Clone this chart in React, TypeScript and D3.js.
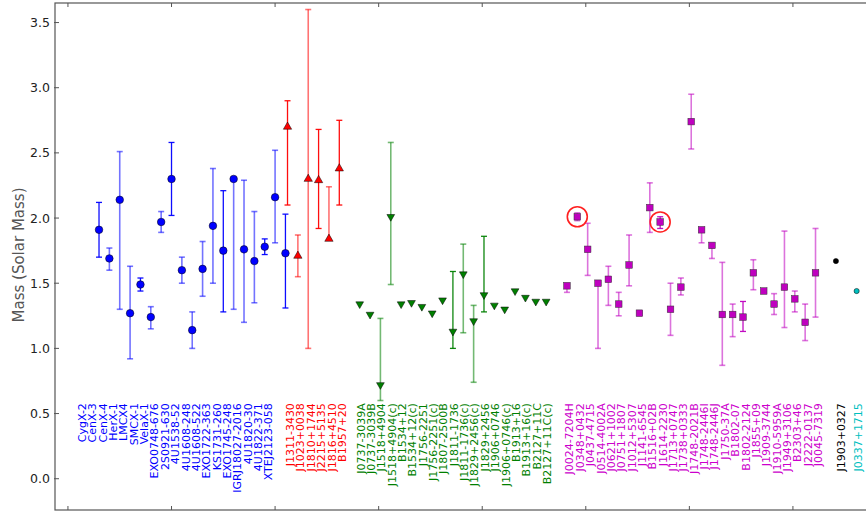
import React, { useEffect, useRef } from 'react';
import * as d3 from 'd3';

// X-ray / optical binaries (blue)
const blueNames = ['CygX-2', 'CenX-3', 'CenX-4', 'HerX-1', 'LMCX4', 'SMCX-1', 'VelaX-1', 'EXO0748-676', '2S0921-630', '4U1538-52', '4U1608-248', '4U1608-522', 'EXO1722-363', 'KS1731-260', 'EXO1745-248', 'IGRJ18027-2016', '4U1820-30', '4U1822-371', 'XTEJ2123-058'];
const blueMass = [1.91, 1.69, 2.14, 1.27, 1.49, 1.24, 1.97, 2.30, 1.60, 1.14, 1.61, 1.94, 1.75, 2.30, 1.76, 1.67, 1.78, 2.16, 1.73];
const blueHi = [2.12, 1.77, 2.51, 1.63, 1.54, 1.32, 2.05, 2.58, 1.70, 1.28, 1.82, 2.38, 2.21, 2.30, 2.29, 2.05, 1.84, 2.52, 2.03];
const blueLo = [1.70, 1.60, 1.30, 0.92, 1.44, 1.15, 1.89, 2.02, 1.50, 1.00, 1.40, 1.50, 1.28, 1.30, 1.20, 1.35, 1.72, 1.81, 1.31];

// black widow / redback (red)
const redNames = ['J1311-3430', 'J1023+0038', 'J1810+1744', 'J2215+5135', 'J1816+4510', 'B1957+20'];
const redMass = [2.70, 1.71, 2.30, 2.29, 1.84, 2.38];
const redHi = [2.90, 1.87, 3.60, 2.68, 2.24, 2.75];
const redLo = [2.10, 1.55, 1.00, 1.92, 1.84, 2.10];

// double neutron stars (green)
const greenNames = ['J0737-3039A', 'J0737-3039B', 'J1518+4904', 'J1518+4904(c)', 'B1534+12', 'B1534+12(c)', 'J1756-2251', 'J1756-2251(c)', 'J1807-2500B', 'J1811-1736', 'J1811-1736(c)', 'J1829+2456(c)', 'J1829+2456', 'J1906+0746', 'J1906+0746(c)', 'B1913+16', 'B1913+16(c)', 'B2127+11C', 'B2127+11C(c)'];
const greenMass = [1.34, 1.26, 0.72, 2.01, 1.34, 1.35, 1.32, 1.27, 1.37, 1.13, 1.57, 1.21, 1.41, 1.33, 1.30, 1.44, 1.39, 1.36, 1.36];
const greenHi = [1.34, 1.26, 1.23, 2.58, 1.34, 1.35, 1.32, 1.27, 1.37, 1.59, 1.80, 1.33, 1.86, 1.33, 1.30, 1.44, 1.39, 1.36, 1.36];
const greenLo = [1.34, 1.26, 0.60, 1.49, 1.34, 1.35, 1.32, 1.27, 1.37, 1.00, 1.12, 0.74, 1.28, 1.33, 1.30, 1.44, 1.39, 1.36, 1.36];

// white dwarf companions (magenta)
const pinkNames = ['J0024-7204H', 'J0348+0432', 'J0437-4715', 'J0514-4002A', 'J0621+1002', 'J0751+1807', 'J1012+5307', 'J1141-6545', 'B1516+02B', 'J1614-2230', 'J1713+0747', 'J1738+0333', 'J1748-2021B', 'J1748-2446I', 'J1748-2446J', 'J1750-37A', 'B1802-07', 'B1802-2124', 'J1855+09', 'J1909-3744', 'J1910-5959A', 'J1949+3106', 'B2303+46', 'J2222-0137', 'J0045-7319'];
const pinkMass = [1.48, 2.01, 1.76, 1.50, 1.53, 1.34, 1.64, 1.27, 2.08, 1.97, 1.30, 1.47, 2.74, 1.91, 1.79, 1.26, 1.26, 1.24, 1.58, 1.44, 1.34, 1.47, 1.38, 1.20, 1.58];
const pinkHi = [1.50, 2.04, 1.96, 1.50, 1.63, 1.43, 1.87, 1.27, 2.27, 2.01, 1.50, 1.54, 2.95, 1.91, 1.79, 1.66, 1.34, 1.36, 1.68, 1.44, 1.42, 1.90, 1.44, 1.34, 1.92];
const pinkLo = [1.43, 1.98, 1.56, 1.00, 1.33, 1.25, 1.48, 1.27, 1.89, 1.92, 1.10, 1.41, 2.53, 1.81, 1.69, 0.87, 1.09, 1.13, 1.45, 1.44, 1.26, 1.16, 1.28, 1.06, 1.24];
const circled = ['J0348+0432', 'J1614-2230'];

// main-sequence / triple
const blackNames = ['J1903+0327'];
const blackMass = [1.67];
const cyanNames = ['J0337+1715'];
const cyanMass = [1.44];

const yTicks = [0, 0.5, 1, 1.5, 2, 2.5, 3, 3.5];
const xTicks = [0, 10, 20, 30, 40, 50, 60, 70];

// bars that were drawn twice and look darker
const darkBars = ['CygX-2', 'LMCX4', 'EXO0748-676', 'EXO1722-363', '4U1820-30', 'XTEJ2123-058', 'J1311-3430', 'J2215+5135', 'B1957+20', 'J1811-1736', 'J1829+2456', 'J1614-2230', 'B1802-2124'];

const W = 866, H = 512;

export default function App() {
    const ref = useRef<SVGSVGElement>(null);

    useEffect(() => {
        const svg = d3.select(ref.current);
        svg.selectAll('*').remove();

        const left = 55, top = 3, bottom = 510;
        const x = d3.scaleLinear().domain([-1.25, 78]).range([left, left + 79.25 * 10.357]);
        const y = d3.scaleLinear().domain([-0.24, 3.65]).range([bottom, top]);
        const right = x(78);

        const groups = [
            { names: blueNames, mass: blueMass, hi: blueHi, lo: blueLo, x0: 3, lx0: 1.4, color: '#0000ff', label: '#0000ff', marker: 'circle' },
            { names: redNames, mass: redMass, hi: redHi, lo: redLo, x0: 21.2, lx0: 21.5, color: '#ff0000', label: '#ff0000', marker: 'up' },
            { names: greenNames, mass: greenMass, hi: greenHi, lo: greenLo, x0: 28.17, lx0: 28.3, color: '#008000', label: '#008000', marker: 'down' },
            { names: pinkNames, mass: pinkMass, hi: pinkHi, lo: pinkLo, x0: 48.18, lx0: 48.47, color: '#bf00bf', label: '#cc00cc', marker: 'square' },
            { names: blackNames, mass: blackMass, hi: blackMass, lo: blackMass, x0: 74.15, lx0: 74.68, color: '#000000', label: '#000000', marker: 'dot' },
            { names: cyanNames, mass: cyanMass, hi: cyanMass, lo: cyanMass, x0: 76.15, lx0: 76.35, color: '#00bfbf', label: '#00bfbf', marker: 'dot' },
        ];

        // frame
        svg.append('rect')
            .attr('x', left).attr('y', top)
            .attr('width', right - left).attr('height', bottom - top)
            .attr('fill', 'none').attr('stroke', '#555').attr('stroke-width', 1.2);

        // ticks (inward)
        svg.append('g').selectAll('line').data(yTicks).enter().append('line')
            .attr('x1', left - 1).attr('x2', left + 4)
            .attr('y1', d => y(d)).attr('y2', d => y(d))
            .attr('stroke', '#555');
        svg.append('g').selectAll('line').data(xTicks).enter().append('line')
            .attr('x1', d => x(d)).attr('x2', d => x(d))
            .attr('y1', top).attr('y2', top + 4)
            .attr('stroke', '#555');
        svg.append('g').selectAll('line').data(xTicks).enter().append('line')
            .attr('x1', d => x(d)).attr('x2', d => x(d))
            .attr('y1', bottom).attr('y2', bottom - 4)
            .attr('stroke', '#555');

        svg.append('g').selectAll('text').data(yTicks).enter().append('text')
            .attr('x', left - 5).attr('y', d => y(d))
            .attr('text-anchor', 'end').attr('dominant-baseline', 'central')
            .attr('font-family', 'DejaVu Sans').attr('font-size', 12.5)
            .attr('fill', '#222')
            .text(d => d.toFixed(1));

        svg.append('text')
            .attr('transform', 'translate(19,255) rotate(-90)')
            .attr('text-anchor', 'middle').attr('dominant-baseline', 'central')
            .attr('font-family', 'DejaVu Sans').attr('font-size', 15)
            .attr('fill', '#555')
            .text('Mass (Solar Mass)');

        const labelTop = y(0.58);

        groups.forEach(g => {
            const pts = g.names.map((n, i) => ({ name: n, xi: g.x0 + i, lxi: g.lx0 + i, m: g.mass[i], hi: g.hi[i], lo: g.lo[i] }));
            const bars = pts.filter(p => p.hi !== p.lo);
            const eg = svg.append('g').attr('stroke', g.color);
            bars.forEach(p => {
                const dark = darkBars.includes(p.name);
                const b = eg.append('g')
                    .attr('stroke-opacity', dark ? 0.95 : 0.55)
                    .attr('stroke-width', dark ? 1.3 : 1.6);
                b.append('line').attr('x1', x(p.xi)).attr('x2', x(p.xi)).attr('y1', y(p.hi)).attr('y2', y(p.lo));
                if (p.hi !== p.m) b.append('line').attr('x1', x(p.xi) - 3).attr('x2', x(p.xi) + 3).attr('y1', y(p.hi)).attr('y2', y(p.hi));
                if (p.lo !== p.m) b.append('line').attr('x1', x(p.xi) - 3).attr('x2', x(p.xi) + 3).attr('y1', y(p.lo)).attr('y2', y(p.lo));
            });

            const mg = svg.append('g');
            pts.forEach(p => {
                const cx = x(p.xi), cy = y(p.m);
                if (g.marker === 'circle') {
                    mg.append('circle').attr('cx', cx).attr('cy', cy).attr('r', 3.8)
                        .attr('fill', g.color).attr('stroke', '#000').attr('stroke-width', 0.5);
                } else if (g.marker === 'dot') {
                    mg.append('circle').attr('cx', cx).attr('cy', cy).attr('r', 2.6)
                        .attr('fill', g.color).attr('stroke', '#000').attr('stroke-width', 0.5);
                } else if (g.marker === 'square') {
                    mg.append('rect').attr('x', cx - 3.3).attr('y', cy - 3.3).attr('width', 6.6).attr('height', 6.6)
                        .attr('fill', g.color).attr('stroke', '#333').attr('stroke-width', 0.5);
                } else {
                    const rot = g.marker === 'down' ? 180 : 0;
                    mg.append('path')
                        .attr('d', d3.symbol(d3.symbolTriangle, g.marker === 'down' ? 26 : 30)())
                        .attr('transform', `translate(${cx},${cy}) rotate(${rot})`)
                        .attr('fill', g.color).attr('stroke', '#000').attr('stroke-width', 0.5);
                }
                if (circled.includes(p.name)) {
                    mg.append('circle').attr('cx', cx).attr('cy', cy).attr('r', 10)
                        .attr('fill', 'none').attr('stroke', '#ff2020').attr('stroke-width', 1.6);
                }
            });

            svg.append('g').selectAll('text').data(pts).enter().append('text')
                .attr('transform', d => `translate(${x(d.lxi)},${labelTop}) rotate(-90)`)
                .attr('text-anchor', 'end').attr('dominant-baseline', 'central')
                .attr('font-family', 'DejaVu Sans').attr('font-size', 11)
                .attr('fill', g.label)
                .text(d => d.name);
        });
    }, []);

    return (
        <svg ref={ref} width={W} height={H}
            style={{ position: 'absolute', left: 0, top: 0, background: '#fff' }} />
    );
}
